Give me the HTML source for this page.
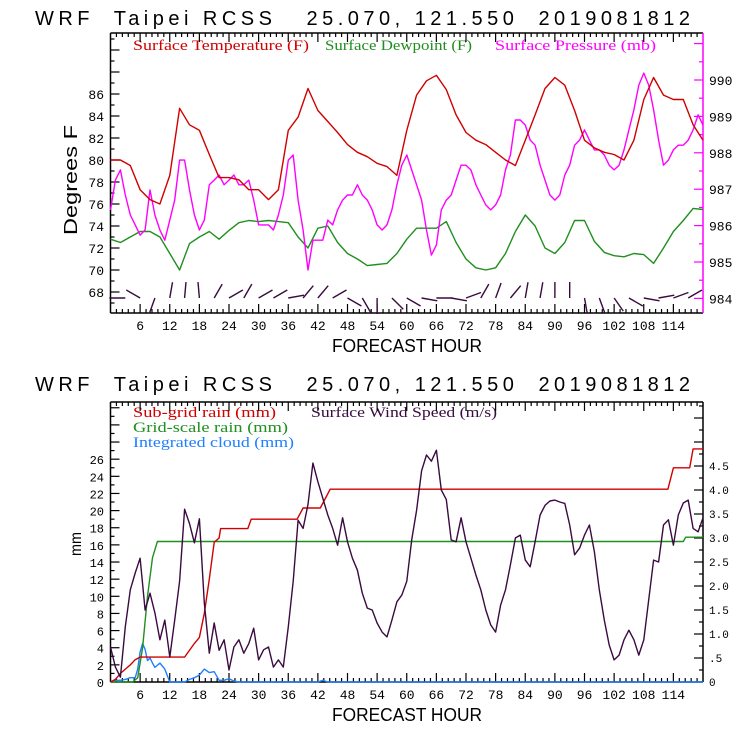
<!DOCTYPE html>
<html><head><meta charset="utf-8"><style>
html,body{margin:0;padding:0;background:#fff;}
svg{display:block;}
</style></head><body>
<svg id="chart" width="740" height="740" viewBox="0 0 740 740" xmlns="http://www.w3.org/2000/svg">
<rect width="740" height="740" fill="#fff"/>
<text x="35" y="25" xml:space="preserve" style="white-space:pre" font-family="Liberation Sans, sans-serif" font-size="20" textLength="655" lengthAdjust="spacing">WRF  Taipei RCSS   25.070, 121.550  2019081812</text>
<text x="35" y="391" xml:space="preserve" style="white-space:pre" font-family="Liberation Sans, sans-serif" font-size="20" textLength="655" lengthAdjust="spacing">WRF  Taipei RCSS   25.070, 121.550  2019081812</text>
<g font-family="Liberation Serif, serif" font-size="14.5">
<text x="133" y="50" fill="#d00000" textLength="176" lengthAdjust="spacingAndGlyphs">Surface Temperature (F)</text>
<text x="325" y="50" fill="#1f8f1f" textLength="147" lengthAdjust="spacingAndGlyphs">Surface Dewpoint (F)</text>
<text x="495" y="50" fill="#ff00ff" textLength="161" lengthAdjust="spacingAndGlyphs">Surface Pressure (mb)</text>
<text x="133" y="417" fill="#d00000" textLength="143" lengthAdjust="spacingAndGlyphs">Sub-grid rain (mm)</text>
<text x="311" y="417" fill="#3a0a40" textLength="186" lengthAdjust="spacingAndGlyphs">Surface Wind Speed (m/s)</text>
<text x="133" y="432" fill="#1f8f1f" textLength="155" lengthAdjust="spacingAndGlyphs">Grid-scale rain (mm)</text>
<text x="133" y="447" fill="#1e7fff" textLength="161" lengthAdjust="spacingAndGlyphs">Integrated cloud (mm)</text>
</g>
<g font-family="Liberation Sans, sans-serif" font-size="18">
<text x="332" y="352" textLength="150" lengthAdjust="spacingAndGlyphs">FORECAST HOUR</text>
<text x="332" y="721" textLength="150" lengthAdjust="spacingAndGlyphs">FORECAST HOUR</text>
<text transform="translate(77,235) rotate(-90)" textLength="110" lengthAdjust="spacingAndGlyphs">Degrees F</text>
<text transform="translate(81,556) rotate(-90)" font-size="16" textLength="24" lengthAdjust="spacingAndGlyphs">mm</text>
</g>
<g id="g"></g>
</svg>
<script>
const hours = [];
for (let h = 0; h <= 120; h += 2) hours.push(h);
const temperature = [80,80,79.5,77.3,76.4,76,78.6,84.7,83.2,82.7,80.5,78.4,78.4,78.2,77.3,77.3,76.4,77.3,82.7,83.9,86.5,84.5,83.5,82.5,81.4,80.7,80.3,79.7,79.4,78.6,82.7,85.9,87.2,87.7,86.4,84.1,82.5,81.8,81.4,80.7,80,79.5,81.8,84.1,86.5,87.5,86.8,84.5,81.8,81.1,80.7,80.5,80,81.8,85.5,87.5,85.9,85.5,85.5,83.2,81.8];
const dewpoint = [72.8,72.5,73,73.5,73.5,73,71.5,70,72.4,73,73.5,72.8,73.6,74.3,74.5,74.4,74.5,74.4,74.3,73,72,73.8,74,72.5,71.5,71,70.4,70.5,70.6,71.5,72.8,73.8,73.8,73.8,74.4,72.5,71,70.2,70,70.2,71.5,73.5,75,74,72,71.5,72.5,74.5,74.5,72.6,71.6,71.3,71.2,71.5,71.4,70.6,72,73.5,74.5,75.6,75.5];
const pressureHours = [];
for (let h = 0; h <= 120; h++) pressureHours.push(h);
const pressure = [986.43,987.25,987.53,986.84,986.29,986.02,985.74,985.88,986.98,986.29,985.88,985.6,986.15,986.7,987.8,987.8,986.98,986.29,985.88,986.15,987.12,987.25,987.39,987.12,987.25,987.39,987.12,987.12,987.25,986.7,986.02,986.02,986.02,985.88,986.29,986.84,987.8,987.94,986.7,985.88,984.78,985.6,985.6,985.6,986.15,986.02,986.43,986.7,986.84,986.84,987.12,986.84,986.7,986.43,986.02,985.88,986.02,986.43,987.12,987.66,987.94,987.53,987.12,986.7,985.88,985.19,985.47,986.43,986.7,986.84,987.25,987.66,987.66,987.53,987.12,986.84,986.57,986.43,986.57,986.84,987.53,987.94,988.9,988.9,988.76,988.35,988.21,987.66,987.25,986.84,986.7,986.84,987.39,987.66,988.21,988.35,988.63,988.35,988.08,988.08,987.94,987.66,987.53,987.66,988.08,988.63,989.18,989.86,990.19,989.86,989.18,988.35,987.66,987.8,988.08,988.21,988.21,988.35,988.63,989.04,988.76];
const barbHours = [3,6,9,12,15,18,21,24,27,30,33,36,39,42,45,48,51,54,57,60,63,66,69,72,75,78,81,84,87,90,93,96,99,102,105,108,111,114,117];
const barbDir = [270,300,200,10,5,355,30,60,30,60,60,80,40,40,60,120,150,180,135,120,100,90,100,70,30,20,40,10,10,0,0,170,160,145,120,100,80,70,60];
const windHours = pressureHours;
const windSpeed = [0.73,0.31,0.1,1.15,1.92,2.27,2.58,1.5,1.85,1.44,0.88,1.29,0.52,1.29,2.1,3.6,3.3,2.9,3.4,1.65,0.6,1.23,0.66,0.88,0.25,0.73,0.88,0.6,0.8,1.12,0.46,0.67,0.73,0.31,0.46,0.31,1.15,2.1,3.37,3.2,3.7,4.56,4.17,3.83,3.48,3.2,2.85,3.42,2.92,2.58,2.33,1.85,1.54,1.5,1.23,1.04,0.94,1.29,1.67,1.81,2.1,2.96,3.58,4.4,4.73,4.6,4.83,4.0,3.8,2.96,2.92,3.42,2.92,2.58,2.23,1.92,1.5,1.19,1.04,1.6,1.92,2.44,3.0,3.06,2.54,2.4,2.92,3.48,3.68,3.77,3.79,3.75,3.72,3.27,2.65,2.79,3.06,3.27,2.71,1.92,1.29,0.77,0.46,0.56,0.88,1.08,0.88,0.56,0.88,1.71,2.54,2.5,3.27,3.38,2.85,3.48,3.73,3.79,3.2,3.13,3.42];
const subgridHours = [0,1,2,4,5,6,15,17,18,19,20,21,22,22.3,27.8,28.5,37.8,39,42.5,44.5,112.9,114,117.3,118,120];
const subgridRain = [0,0.3,1,2,2.6,2.9,2.9,4.5,5.2,8,12,16.3,16.8,17.9,17.9,19,19,20.3,20.3,22.5,22.5,25,25,27.2,27.2];
const gridHours = [0,4.5,5.5,6.5,7.5,8.5,9.5,116,116.5,120];
const gridRain = [0,0,0.5,4,10,14.5,16.4,16.4,16.9,16.9];
const cloudHours = [0,1,2,3,4,5,5.5,6,6.5,7,7.5,8,8.5,9,10,11,12,13,15,16,17,18,19,20,21,22,23,24,25,26,42,43,44,120];
const cloud = [0,0.2,0.2,0.3,0.5,0.5,1.5,3.5,4.5,3.8,2.5,2.8,2.2,1.7,2.2,1.5,0,0,0,0.3,0.5,0.8,1.5,1.1,1.2,0.2,0.2,0.4,0.1,0,0,0.2,0,0];
const xTicks = [6,12,18,24,30,36,42,48,54,60,66,72,78,84,90,96,102,108,114];
const tempTicks = [68,70,72,74,76,78,80,82,84,86];
const presTicks = [984,985,986,987,988,989,990];
const mmTicks = [0,2,4,6,8,10,12,14,16,18,20,22,24,26];
const wsTicks = ['0','.5','1.0','1.5','2.0','2.5','3.0','3.5','4.0','4.5'];

const NS = 'http://www.w3.org/2000/svg';
const G = document.getElementById('g');
function mk(tag, attrs, parent) {
  const e = document.createElementNS(NS, tag);
  for (const k in attrs) e.setAttribute(k, attrs[k]);
  (parent || G).appendChild(e);
  return e;
}
const X0 = 110.5, X1 = 703;
const xs = h => X0 + (X1 - X0) * h / 120;
const T_TOP = 33, T_BOT = 313;
const yT = v => 94 + (86 - v) * 11;
const yP = v => 80 + (990 - v) * 36.4;
const B_TOP = 402, B_BOT = 682;
const yMM = v => 682 - v * 8.57;
const yWS = v => 682 - v * 48;

function line(xa, ya, fx, fy, color, name, w) {
  let d = '';
  for (let i = 0; i < xa.length; i++) d += (i ? 'L' : 'M') + fx(xa[i]).toFixed(1) + ',' + fy(ya[i]).toFixed(1);
  const p = mk('path', {d: d, fill: 'none', stroke: color, 'stroke-width': w || 1.4, 'stroke-linejoin': 'round'});
  
  
  return p;
}

function panelAxes(top, bot, rightColor, prefix) {
  const fr = mk('g', {});
  
  
  mk('line', {x1: X0, y1: top, x2: X1, y2: top, stroke: '#000', 'stroke-width': 1.5}, fr);
  mk('line', {x1: X0, y1: bot, x2: X1, y2: bot, stroke: '#000', 'stroke-width': 1.5}, fr);
  mk('line', {x1: X0, y1: top, x2: X0, y2: bot, stroke: '#000', 'stroke-width': 1.5}, fr);
  mk('line', {x1: X1, y1: top, x2: X1, y2: bot, stroke: rightColor, 'stroke-width': 1.5}, fr);
  for (let h = 1.2; h < 120; h += 1.2) {
    const major = Math.abs(h / 6 - Math.round(h / 6)) < 0.01;
    const L = major ? 9 : 4;
    mk('line', {x1: xs(h), y1: bot, x2: xs(h), y2: bot - L, stroke: '#000', 'stroke-width': 1.2}, fr);
    mk('line', {x1: xs(h), y1: top, x2: xs(h), y2: top + L, stroke: '#000', 'stroke-width': 1.2}, fr);
  }
  xTicks.forEach(h => {
    const t = mk('text', {x: xs(h), y: bot + 17, 'text-anchor': 'middle', 'font-family': 'Liberation Mono, monospace', 'font-size': 13}, fr);
    t.textContent = h;
  });
}
panelAxes(T_TOP, T_BOT, '#ff00ff', 'top');
panelAxes(B_TOP, B_BOT, '#000', 'bottom');

for (let v = 67; v <= 91; v++) {
  const y = yT(v);
  if (y <= T_TOP || y >= T_BOT) continue;
  mk('line', {x1: X0, y1: y, x2: X0 + (v % 2 === 0 ? 9 : 4), y2: y, stroke: '#000', 'stroke-width': 1.2});
}
tempTicks.forEach(v => {
  const t = mk('text', {x: 104, y: yT(v) + 5, 'text-anchor': 'end', 'font-family': 'Liberation Mono, monospace', 'font-size': 13});
  t.textContent = v;
});
for (let v = 983.5; v <= 991.5; v += 0.5) {
  const y = yP(v);
  if (y <= T_TOP || y >= T_BOT) continue;
  mk('line', {x1: X1, y1: y, x2: X1 - (v % 1 === 0 ? 9 : 4), y2: y, stroke: '#ff00ff', 'stroke-width': 1.2});
}
presTicks.forEach(v => {
  const t = mk('text', {x: 709, y: yP(v) + 5, 'font-family': 'Liberation Mono, monospace', 'font-size': 13});
  t.textContent = v;
});
for (let v = 1; v <= 32; v++) {
  const y = yMM(v);
  if (y <= B_TOP) continue;
  mk('line', {x1: X0, y1: y, x2: X0 + (v % 2 === 0 ? 9 : 4), y2: y, stroke: '#000', 'stroke-width': 1.2});
}
mmTicks.forEach(v => {
  const t = mk('text', {x: 104, y: yMM(v) + 5, 'text-anchor': 'end', 'font-family': 'Liberation Mono, monospace', 'font-size': 12});
  t.textContent = v;
});
for (let v = 0.25; v <= 5.75; v += 0.25) {
  const y = yWS(v);
  if (y <= B_TOP) continue;
  mk('line', {x1: X1, y1: y, x2: X1 - (v % 0.5 === 0 ? 9 : 4), y2: y, stroke: '#000', 'stroke-width': 1.2});
}
wsTicks.forEach((s, i) => {
  const t = mk('text', {x: 709, y: yWS(i * 0.5) + 4, 'font-family': 'Liberation Mono, monospace', 'font-size': 11});
  t.textContent = s;
});

line(hours, dewpoint, xs, yT, '#1f8f1f', 'dewpoint-line');
line(pressureHours, pressure, xs, yP, '#ff00ff', 'pressure-line');
line(hours, temperature, xs, yT, '#d00000', 'temperature-line');
barbHours.forEach((h, i) => {
  const a = barbDir[i] * Math.PI / 180, L = 16;
  const x = xs(h), y = 298;
  const b = mk('path', {d: 'M' + x + ',' + y + 'L' + (x + L * Math.sin(a)).toFixed(1) + ',' + (y - L * Math.cos(a)).toFixed(1), stroke: '#3a0a40', 'stroke-width': 1.4, fill: 'none'});
  
  
});

line(cloudHours, cloud, xs, yMM, '#1e7fff', 'cloud-line');
line(gridHours, gridRain, xs, yMM, '#1f8f1f', 'grid-rain-line');
line(subgridHours, subgridRain, xs, yMM, '#d00000', 'subgrid-rain-line');
line(windHours, windSpeed, xs, yWS, '#3a0a40', 'wind-speed-line');
</script>
</body></html>
